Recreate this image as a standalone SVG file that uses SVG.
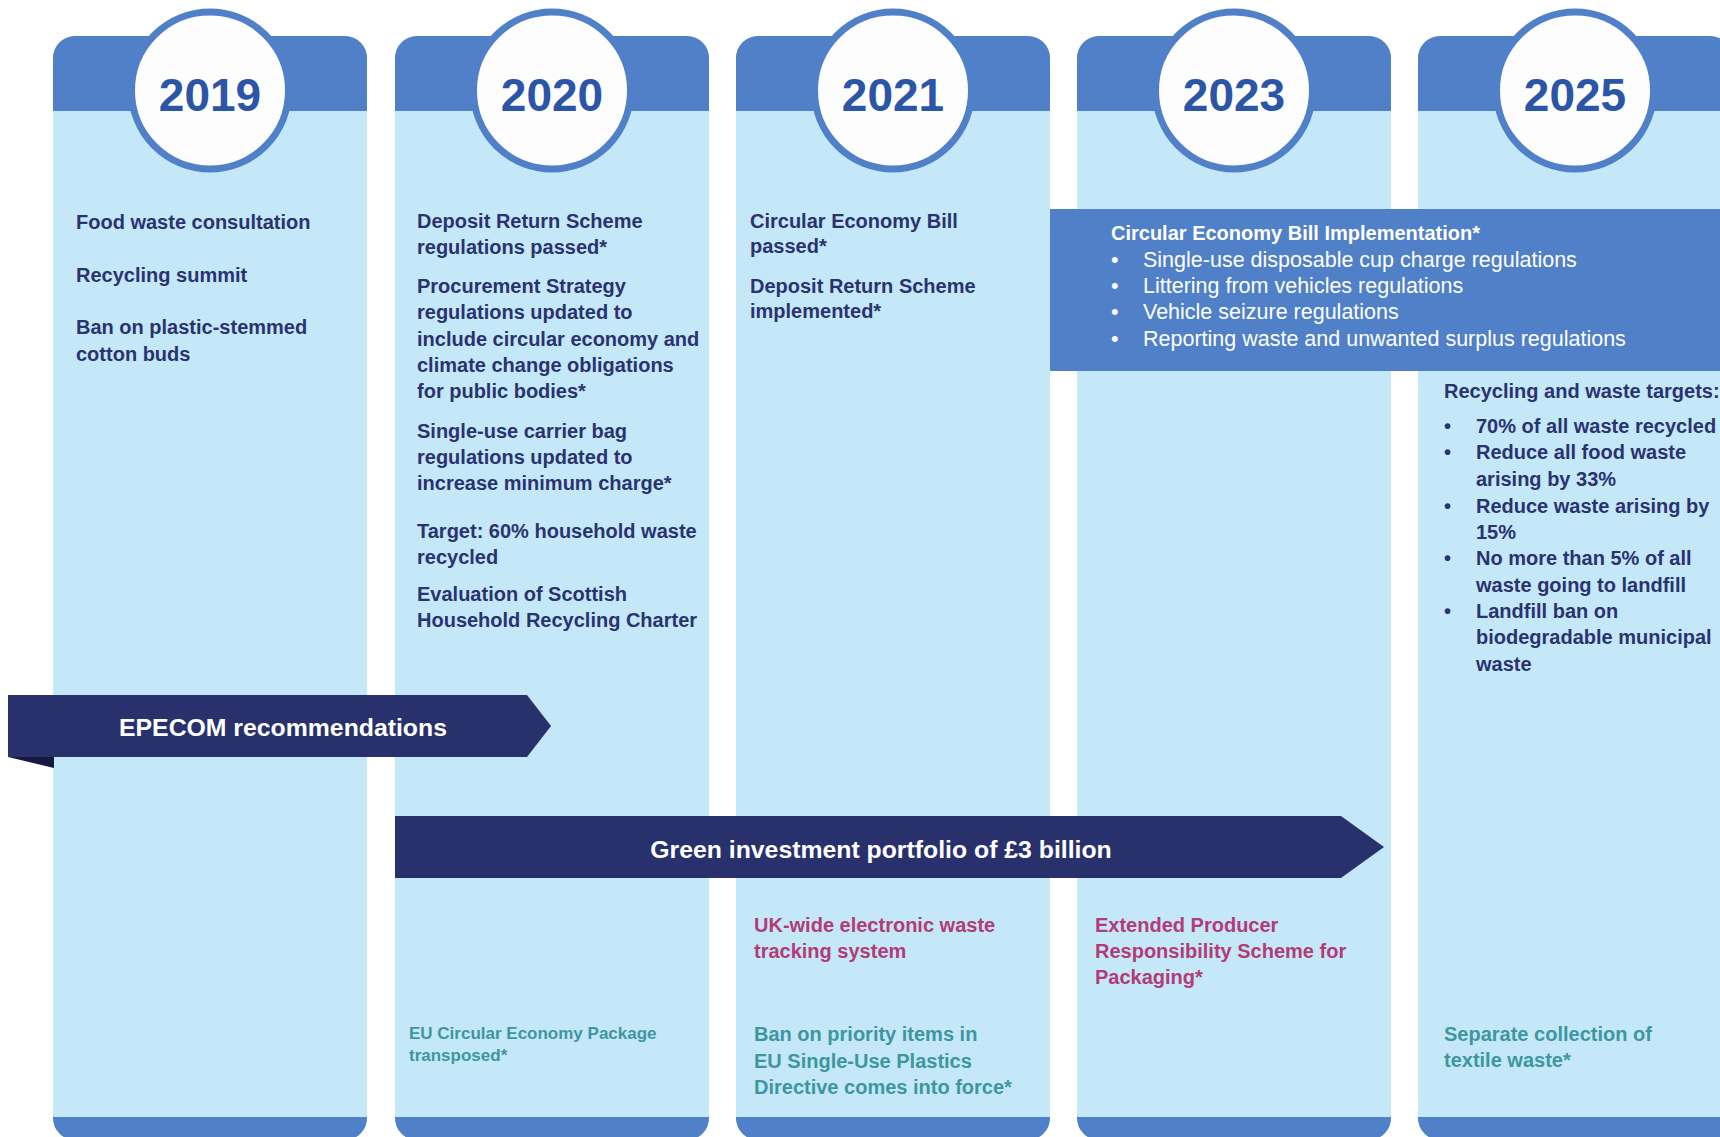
<svg xmlns="http://www.w3.org/2000/svg" xmlns:xlink="http://www.w3.org/1999/xlink" width="1720" height="1137" viewBox="0 0 1720 1137">
<style>
text{font-family:"Liberation Sans",Arial,sans-serif;font-weight:bold;font-size:20px;}
.body{fill:#c4e8f7;}
.band{fill:#5080c8;}
.yr-c{fill:#fdfdfd;stroke:#5080c8;stroke-width:7;}
.yr{font-size:46px;fill:#2b56a7;text-anchor:middle;}
.t{fill:#2a3370;}
.m{fill:#b23b78;}
.g{fill:#3e96a1;}
.s{font-size:17px;}
.w{fill:#ffffff;}
.wr{fill:#ffffff;font-weight:normal;font-size:21.5px;}
.arr{fill:#29316d;}
.fold{fill:#151a3e;}
.at{fill:#ffffff;font-size:24.8px;}
</style>
<defs>
<g id="col">
<rect class="body" x="0" y="36" width="314" height="1104" rx="22"/>
<path class="band" d="M0,111 V58 A22,22 0 0 1 22,36 H292 A22,22 0 0 1 314,58 V111 Z"/>
<path class="band" d="M0,1117 H314 V1118 A22,22 0 0 1 292,1140 H22 A22,22 0 0 1 0,1118 Z"/>
<circle class="yr-c" cx="157" cy="90.5" r="78.5"/>
</g>
</defs>
<rect x="0" y="0" width="1720" height="1137" fill="#ffffff"/>

<g id="col-2019">
<use xlink:href="#col" href="#col" x="53" y="0"/>
<text class="yr" x="210" y="111">2019</text>
<text class="t" x="76" y="229">Food waste consultation</text>
<text class="t" x="76" y="282">Recycling summit</text>
<text class="t" x="76" y="334">Ban on plastic-stemmed</text>
<text class="t" x="76" y="361">cotton buds</text>
</g>

<g id="col-2020">
<use xlink:href="#col" href="#col" x="395" y="0"/>
<text class="yr" x="552" y="111">2020</text>
<text class="t" x="417" y="228">Deposit Return Scheme</text>
<text class="t" x="417" y="254">regulations passed*</text>
<text class="t" x="417" y="293">Procurement Strategy</text>
<text class="t" x="417" y="319">regulations updated to</text>
<text class="t" x="417" y="346">include circular economy and</text>
<text class="t" x="417" y="372">climate change obligations</text>
<text class="t" x="417" y="398">for public bodies*</text>
<text class="t" x="417" y="438">Single-use carrier bag</text>
<text class="t" x="417" y="464">regulations updated to</text>
<text class="t" x="417" y="490">increase minimum charge*</text>
<text class="t" x="417" y="538">Target: 60% household waste</text>
<text class="t" x="417" y="564">recycled</text>
<text class="t" x="417" y="601">Evaluation of Scottish</text>
<text class="t" x="417" y="627">Household Recycling Charter</text>
<text class="g s" x="409" y="1039">EU Circular Economy Package</text>
<text class="g s" x="409" y="1061">transposed*</text>
</g>

<g id="col-2021">
<use xlink:href="#col" href="#col" x="736" y="0"/>
<text class="yr" x="893" y="111">2021</text>
<text class="t" x="750" y="228">Circular Economy Bill</text>
<text class="t" x="750" y="253">passed*</text>
<text class="t" x="750" y="293">Deposit Return Scheme</text>
<text class="t" x="750" y="318">implemented*</text>
<text class="m" x="754" y="932">UK-wide electronic waste</text>
<text class="m" x="754" y="958">tracking system</text>
<text class="g" x="754" y="1041">Ban on priority items in</text>
<text class="g" x="754" y="1068">EU Single-Use Plastics</text>
<text class="g" x="754" y="1094">Directive comes into force*</text>
</g>

<g id="col-2023">
<use xlink:href="#col" href="#col" x="1077" y="0"/>
<text class="yr" x="1234" y="111">2023</text>
<text class="m" x="1095" y="932">Extended Producer</text>
<text class="m" x="1095" y="958">Responsibility Scheme for</text>
<text class="m" x="1095" y="984">Packaging*</text>
</g>

<g id="col-2025">
<use xlink:href="#col" href="#col" x="1418" y="0"/>
<text class="yr" x="1575" y="111">2025</text>
<text class="t" x="1444" y="398">Recycling and waste targets:</text>
<text class="t" x="1444" y="433">•</text><text class="t" x="1476" y="433">70% of all waste recycled</text>
<text class="t" x="1444" y="459">•</text><text class="t" x="1476" y="459">Reduce all food waste</text>
<text class="t" x="1476" y="486">arising by 33%</text>
<text class="t" x="1444" y="513">•</text><text class="t" x="1476" y="513">Reduce waste arising by</text>
<text class="t" x="1476" y="539">15%</text>
<text class="t" x="1444" y="565">•</text><text class="t" x="1476" y="565">No more than 5% of all</text>
<text class="t" x="1476" y="592">waste going to landfill</text>
<text class="t" x="1444" y="618">•</text><text class="t" x="1476" y="618">Landfill ban on</text>
<text class="t" x="1476" y="644">biodegradable municipal</text>
<text class="t" x="1476" y="671">waste</text>
<text class="g" x="1444" y="1041">Separate collection of</text>
<text class="g" x="1444" y="1067">textile waste*</text>
</g>

<g id="circular-economy-bill-implementation">
<rect class="band" x="1050" y="209" width="670" height="162"/>
<text class="w" x="1111" y="240">Circular Economy Bill Implementation*</text>
<text class="wr" x="1111" y="267">•</text><text class="wr" x="1143" y="267">Single-use disposable cup charge regulations</text>
<text class="wr" x="1111" y="293">•</text><text class="wr" x="1143" y="293">Littering from vehicles regulations</text>
<text class="wr" x="1111" y="319">•</text><text class="wr" x="1143" y="319">Vehicle seizure regulations</text>
<text class="wr" x="1111" y="346">•</text><text class="wr" x="1143" y="346">Reporting waste and unwanted surplus regulations</text>
</g>

<g id="epecom-recommendations">
<polygon class="fold" points="8,757 54,757 54,768"/>
<polygon class="arr" points="8,695 527,695 551,726 527,757 8,757"/>
<text class="at" x="283" y="736" text-anchor="middle">EPECOM recommendations</text>
</g>

<g id="green-investment-portfolio">
<polygon class="arr" points="395,816 1341,816 1384,847 1341,878 395,878"/>
<text class="at" x="881" y="858" text-anchor="middle">Green investment portfolio of £3 billion</text>
</g>
</svg>
